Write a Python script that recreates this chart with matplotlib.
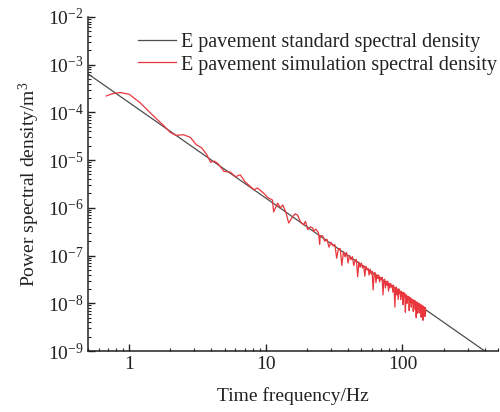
import matplotlib
matplotlib.use("Agg")
import matplotlib.pyplot as plt
from matplotlib.ticker import LogLocator, LogFormatterMathtext, NullFormatter

plt.rcParams['font.family'] = ['Liberation Serif', 'DejaVu Serif']
plt.rcParams['mathtext.fontset'] = 'custom'
plt.rcParams['mathtext.rm'] = 'Liberation Serif'
plt.rcParams['mathtext.it'] = 'Liberation Serif:italic'

# standard spectral density (straight line in log-log)
std_freq = [0.5, 500]
std_psd = [6.4e-4, 6.4e-10]

# simulated spectral density
sim_freq = [
    0.68, 0.75, 0.86, 1.0, 1.2, 1.5, 1.8, 2.0, 2.2, 2.5, 2.8, 3.1, 3.4, 3.7,
    3.95, 4.2, 4.45, 4.7, 4.95, 5.5, 6.0, 6.5, 7.0, 7.8, 8.2, 8.7, 9.7, 10.3,
    11.2, 11.4, 12.2, 12.8, 13.3, 14.0, 14.7, 15.7, 16.4, 17.1, 18.0, 18.9,
    19.5, 20.3, 21.2, 22.0, 22.4, 23.2, 24.3, 24.8,
    25, 26, 27, 28, 29, 30, 31, 32, 33, 34, 35, 36, 37, 38, 39, 40,
    41, 42, 43, 44, 45, 46, 47, 48, 49, 50, 51, 52, 53, 54, 55, 56,
    57, 58, 59, 60, 61, 62, 63, 64, 65, 66, 67, 68, 69, 70, 71, 72,
    73, 74, 75, 76, 77, 78, 79, 80, 81, 82, 83, 84, 85, 86, 87, 88,
    89, 90, 91, 92, 93, 94, 95, 96, 97, 98, 99, 100, 101, 102, 103, 104,
    105, 106, 107, 108, 109, 110, 111, 112, 113, 114, 115, 116, 117, 118,
    119, 120, 121, 122, 123, 124, 125, 126, 127, 128, 129, 130, 131, 132,
    133, 134, 135, 136, 137, 138, 139, 140, 141, 142, 143, 144, 145, 146,
    147, 148,
]
sim_psd = [
    2.2e-4, 2.45e-4, 2.6e-4, 2.4e-4, 1.6e-4, 8.5e-5, 5.2e-5, 3.8e-5, 3.3e-5,
    3.4e-5, 3.0e-5, 2.1e-5, 1.8e-5, 1.3e-5, 9.0e-6, 9.5e-6, 8.5e-6, 7.0e-6,
    5.8e-6, 5.6e-6, 4.5e-6, 4.9e-6, 3.6e-6, 2.7e-6, 2.4e-6, 2.6e-6, 2.0e-6,
    1.65e-6, 1.45e-6, 8.2e-7, 1.25e-6, 1.0e-6, 1.15e-6, 8.2e-7, 4.8e-7,
    6.5e-7, 7.5e-7, 7.0e-7, 5.0e-7, 4.4e-7, 5.2e-7, 3.5e-7, 4.0e-7, 3.8e-7,
    3.2e-7, 3.6e-7, 3.0e-7, 1.7e-7,
    2.6e-7, 2.6e-7, 2.0e-7, 2.2e-7, 1.5e-7, 1.9e-7, 1.6e-7, 1.7e-7, 8.8e-8,
    1.4e-7, 1.4e-7, 6.2e-8, 1.2e-7, 9.4e-8, 1.16e-7, 7.0e-8,
    1.0e-7, 8.2e-8, 9.5e-8, 6.2e-8, 7.9e-8, 8.3e-8, 3.6e-8, 7.3e-8,
    5.7e-8, 7.0e-8, 5.5e-8, 6.2e-8, 3.7e-8, 6.0e-8, 5.0e-8, 5.4e-8,
    3.9e-8, 5.2e-8, 4.1e-8, 4.7e-8, 1.9e-8, 4.2e-8, 4.4e-8, 2.7e-8,
    4.0e-8, 3.3e-8, 3.9e-8, 2.8e-8, 3.5e-8, 3.1e-8, 3.5e-8, 1.5e-8,
    3.0e-8, 3.2e-8, 2.1e-8, 2.9e-8, 2.4e-8, 2.9e-8, 1.8e-8, 2.6e-8,
    2.1e-8, 2.6e-8, 2.2e-8, 2.4e-8, 1.7e-8, 2.4e-8, 1.9e-8, 8.3e-9,
    2.0e-8, 2.2e-8, 1.5e-8, 2.0e-8, 1.2e-8, 2.0e-8, 1.6e-8, 1.8e-8,
    1.2e-8, 1.8e-8, 1.4e-8, 1.7e-8, 9.4e-9, 1.7e-8, 1.4e-8, 1.6e-8,
    6.5e-9, 1.4e-8, 1.5e-8, 1.0e-8, 1.4e-8, 1.2e-8, 1.4e-8, 7.0e-9,
    1.3e-8, 1.05e-8, 1.3e-8, 8.3e-9, 1.2e-8, 1.0e-8, 1.2e-8, 6.7e-9,
    1.15e-8, 9.1e-9, 1.15e-8, 7.3e-9, 1.07e-8, 5.0e-9, 9.9e-9, 1.07e-8,
    6.2e-9, 1.0e-8, 7.9e-9, 1.0e-8, 6.3e-9, 9.3e-9, 7.9e-9, 9.5e-9,
    5.1e-9, 8.8e-9, 7.0e-9, 9.0e-9, 4.4e-9, 7.9e-9, 8.6e-9, 5.8e-9,
    8.0e-9, 5.3e-9, 8.1e-9, 6.6e-9,
]

fig = plt.figure(figsize=(5.0, 4.12), dpi=100)
ax = fig.add_axes([0.176, 0.148, 0.820, 0.811])

ax.plot(std_freq, std_psd, color='#4d4d4d', lw=0.9,
        label='E pavement standard spectral density')
ax.plot(sim_freq, sim_psd, color='#e8363c', lw=0.9,
        label='E pavement simulation spectral density')

ax.set_xscale('log')
ax.set_yscale('log')
ax.set_xlim(0.5, 500)
ax.set_ylim(1e-9, 1e-2)

ax.xaxis.set_minor_locator(LogLocator(base=10, subs=range(2, 10), numticks=20))
ax.xaxis.set_minor_formatter(NullFormatter())
ax.set_xticks([1, 10, 100])
ax.set_xticklabels(['1', '10', '100'])

ax.yaxis.set_major_locator(LogLocator(base=10, numticks=12))
ax.yaxis.set_minor_locator(LogLocator(base=10, subs=range(2, 10), numticks=30))
ax.yaxis.set_major_formatter(LogFormatterMathtext())
ax.yaxis.set_minor_formatter(NullFormatter())

ax.tick_params(which='both', direction='in', labelsize=14, colors='#222222')
ax.tick_params(which='major', length=5, width=1)
ax.tick_params(which='minor', length=2.5, width=0.8)
ax.tick_params(axis='y', pad=3)

for side in ['top', 'right']:
    ax.spines[side].set_visible(False)
for side in ['left', 'bottom']:
    ax.spines[side].set_linewidth(1.1)
    ax.spines[side].set_color('#222222')

ax.set_xlabel('Time frequency/Hz', fontsize=14, color='#222222', labelpad=10)
ax.set_ylabel('Power spectral density/m$^3$', fontsize=14, color='#222222',
              labelpad=4)

ax.legend(loc='upper right', bbox_to_anchor=(1.018, 0.975), borderaxespad=0,
          frameon=False, fontsize=14.5, handlelength=1.9, handletextpad=0.25,
          labelspacing=0.15, labelcolor='#222222')

fig.savefig('out.png', dpi=100)
